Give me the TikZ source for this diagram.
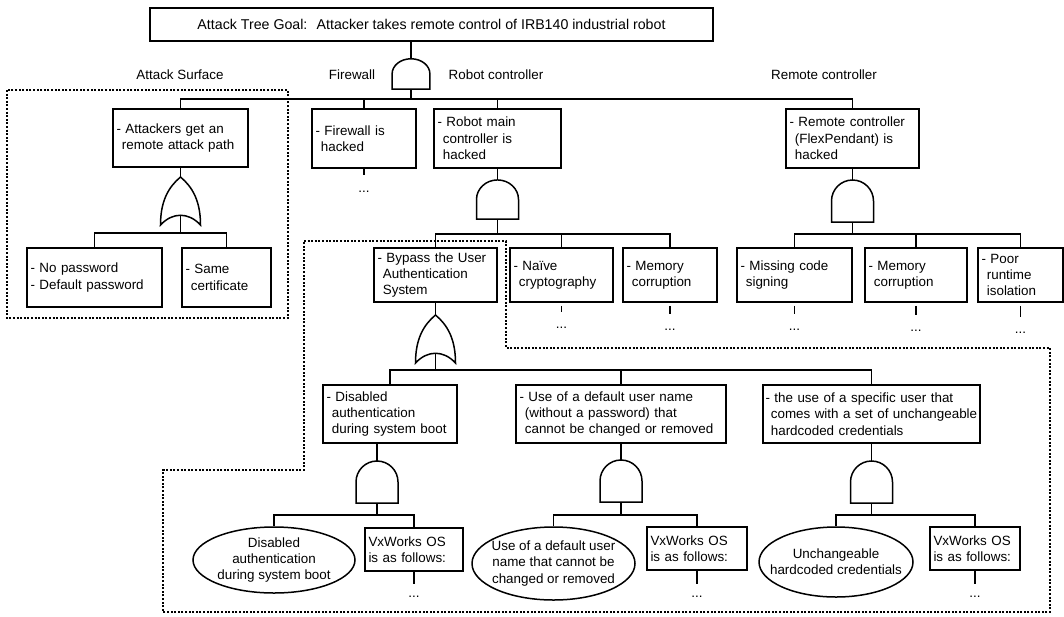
\documentclass[tikz,border=0pt]{standalone}
\usepackage{fontspec}
\setmainfont{Liberation Sans}
\usetikzlibrary{shapes.geometric}
\newcommand\indnt{\hspace*{0.4em}}

\begin{document}
\begin{tikzpicture}[x=1pt, y=-1pt, line width=1.5pt,
    every node/.style={font=\fontsize{13.4}{16.3}\selectfont},
    box/.style={draw, inner xsep=3.5pt, inner ysep=0pt, align=left},
    oval/.style={draw, ellipse, inner xsep=-14pt, inner ysep=-6pt, align=center},
    dots/.style={inner sep=0pt},
    stub/.style={shorten >=#1},
    region/.style={line width=2pt, dash pattern=on 2pt off 1.6pt},
    andgate/.pic={
        \draw (-21,0) -- (-21,-21) .. controls (-21,-32.6) and (-11.6,-42) .. (0,-42)
            .. controls (11.6,-42) and (21,-32.6) .. (21,-21) -- (21,0) -- cycle;
        \coordinate (-top) at (0,-42);
        \coordinate (-out) at (0,0);
    },
    orgate/.pic={
        \draw (-20,0) .. controls (-20,-24) and (-12,-38) .. (0,-48)
            .. controls (12,-38) and (20,-24) .. (20,0)
            .. controls (8,-13) and (-8,-13) .. (-20,0) -- cycle;
        \coordinate (-top) at (0,-48);
        \coordinate (-out) at (0,-10);
    }]

    \useasboundingbox (0,0) rectangle (1064,616);

    \coordinate (b0) at (411,99);
    \coordinate (b1) at (180.5,233);
    \coordinate (b2) at (497.5,234);
    \coordinate (b3) at (852.5,234);
    \coordinate (b4) at (435.5,370);
    \coordinate (b5) at (377,515);
    \coordinate (b6) at (621,515);
    \coordinate (b7) at (871.5,515);

    \draw[region] (7,90) rectangle (288,318);
    \draw[region] (304,241) -- (506,241) -- (506,348) -- (1050,348) -- (1050,612)
        -- (163,612) -- (163,470) -- (304,470) -- cycle;

    \node[box, minimum width=563pt, minimum height=33pt, font=\fontsize{14.2}{16.3}\selectfont] (goal) at (431.5,24.5)
        {Attack Tree Goal:~ Attacker takes remote control of IRB140 industrial robot};

    \node (lsurf) at (180,75) {Attack Surface};
    \node (lfw) at (352,75) {Firewall};
    \node (lrob) at (496,75) {Robot controller};
    \node (lrem) at (824,75) {Remote controller};

    \node[box, text width=128pt, minimum height=58pt] (att) at (180.5,138) {- Attackers get an\\\indnt remote attack path};
    \node[box, text width=97pt, minimum height=59pt] (fw) at (364,138.5) {- Firewall is\\\indnt hacked};
    \node[box, text width=120pt, minimum height=59pt] (rmc) at (497.5,138.5) {- Robot main\\\indnt controller is\\\indnt hacked};
    \node[box, text width=126pt, minimum height=59pt] (rc) at (852.5,138.5) {- Remote controller\\\indnt (FlexPendant) is\\\indnt hacked};

    \node[box, text width=128pt, minimum height=59pt] (nopw) at (94.5,277.5) {- No password\\- Default password};
    \node[box, text width=82pt, minimum height=59pt] (cert) at (226.5,277.5) {- Same\\\indnt certificate};

    \node[box, text width=116pt, minimum height=54pt] (byp) at (435.5,275) {- Bypass the User\\\indnt Authentication\\\indnt System};
    \node[box, text width=96pt, minimum height=54pt] (naive) at (561.5,275) {- Naïve\\\indnt cryptography};
    \node[box, text width=87pt, minimum height=54pt] (mem1) at (670,275) {- Memory\\\indnt corruption};
    \node[box, text width=108pt, minimum height=54pt] (miss) at (794.5,275) {- Missing code\\\indnt signing};
    \node[box, text width=95pt, minimum height=54pt] (mem2) at (916,275) {- Memory\\\indnt corruption};
    \node[box, text width=78pt, minimum height=54pt] (poor) at (1020.5,275) {- Poor\\\indnt runtime\\\indnt isolation};

    \node[box, text width=127pt, minimum height=58pt] (dis) at (390,414) {- Disabled\\\indnt authentication\\\indnt during system boot};
    \node[box, text width=203pt, minimum height=58pt] (dflt) at (621,414) {- Use of a default user name\\\indnt (without a password) that\\\indnt cannot be changed or removed};
    \node[box, inner xsep=2.5pt, text width=212pt, minimum height=58pt] (spec) at (871.5,414)
        {- the use of a specific user that\\\indnt\mbox{comes with a set of unchangeable}\\\indnt hardcoded credentials};

    \node[oval, minimum width=162pt, minimum height=66pt] (ell1) at (274,560) {Disabled\\authentication\\during system boot};
    \node[box, text width=91pt, minimum height=43pt] (vx1) at (414,549.5) {VxWorks OS\\is as follows:};
    \node[oval, minimum width=163pt, minimum height=73pt] (ell2) at (553.5,563.5) {Use of a default user\\name that cannot be\\changed or removed};
    \node[box, text width=93pt, minimum height=43pt] (vx2) at (697,548.5) {VxWorks OS\\is as follows:};
    \node[oval, minimum width=154pt, minimum height=70pt] (ell3) at (836,562) {Unchangeable\\hardcoded credentials};
    \node[box, text width=83pt, minimum height=43pt] (vx3) at (975,548.5) {VxWorks OS\\is as follows:};

    \node[dots] (fw-d) at (364,192) {...};
    \node[dots] (naive-d) at (561.5,328) {...};
    \node[dots] (mem1-d) at (670,330) {...};
    \node[dots] (miss-d) at (794.5,330) {...};
    \node[dots] (mem2-d) at (916,331) {...};
    \node[dots] (poor-d) at (1020.5,333) {...};
    \node[dots] (vx1-d) at (414,597) {...};
    \node[dots] (vx2-d) at (697,597) {...};
    \node[dots] (vx3-d) at (975,597) {...};

    \pic[xscale=.9, yscale=.72] (g0) at (411,89) {andgate};
    \pic (g1) at (180.5,225) {orgate};
    \pic[yscale=.93] (g2) at (497.5,219) {andgate};
    \pic (g3) at (852.5,222) {andgate};
    \pic (g4) at (435.5,363) {orgate};
    \pic (g5) at (377,503) {andgate};
    \pic (g6) at (621,502) {andgate};
    \pic (g7) at (871.5,503) {andgate};

    \draw (goal.south -| g0-top) -- (g0-top);
    \draw (g0-out) -- (b0);
    \foreach \n in {att,fw,rmc,rc}
        \draw (b0) -| (\n.north);

    \draw (att.south) -- (g1-top);
    \draw (g1-out) -- (b1);
    \foreach \n in {nopw,cert}
        \draw (b1) -| (\n.north);

    \draw (rmc.south) -- (g2-top);
    \draw (g2-out) -- (b2);
    \foreach \n in {byp,naive,mem1}
        \draw (b2) -| (\n.north);

    \draw (rc.south) -- (g3-top);
    \draw (g3-out) -- (b3);
    \foreach \n in {miss,mem2,poor}
        \draw (b3) -| (\n.north);

    \draw (byp.south) -- (g4-top);
    \draw (g4-out) -- (b4);
    \foreach \n in {dis,dflt,spec}
        \draw (b4) -| (\n.north);

    \draw (g5-top |- dis.south) -- (g5-top);
    \draw (g5-out) -- (b5);
    \foreach \n in {ell1,vx1}
        \draw (b5) -| (\n.north);

    \draw (dflt.south) -- (g6-top);
    \draw (g6-out) -- (b6);
    \foreach \n in {ell2,vx2}
        \draw (b6) -| (\n.north);

    \draw (spec.south) -- (g7-top);
    \draw (g7-out) -- (b7);
    \foreach \n in {ell3,vx3}
        \draw (b7) -| (\n.north);

    \draw[stub=15.5pt] (fw.south) -- (fw-d.north);
    \foreach \n in {naive,mem1,miss,mem2,poor}
        \draw[shorten <=3pt, stub=15pt] (\n.south) -- (\n-d.north);
    \foreach \n in {vx1,vx2,vx3}
        \draw[stub=11.5pt] (\n.south) -- (\n-d.north);

\end{tikzpicture}
\end{document}
